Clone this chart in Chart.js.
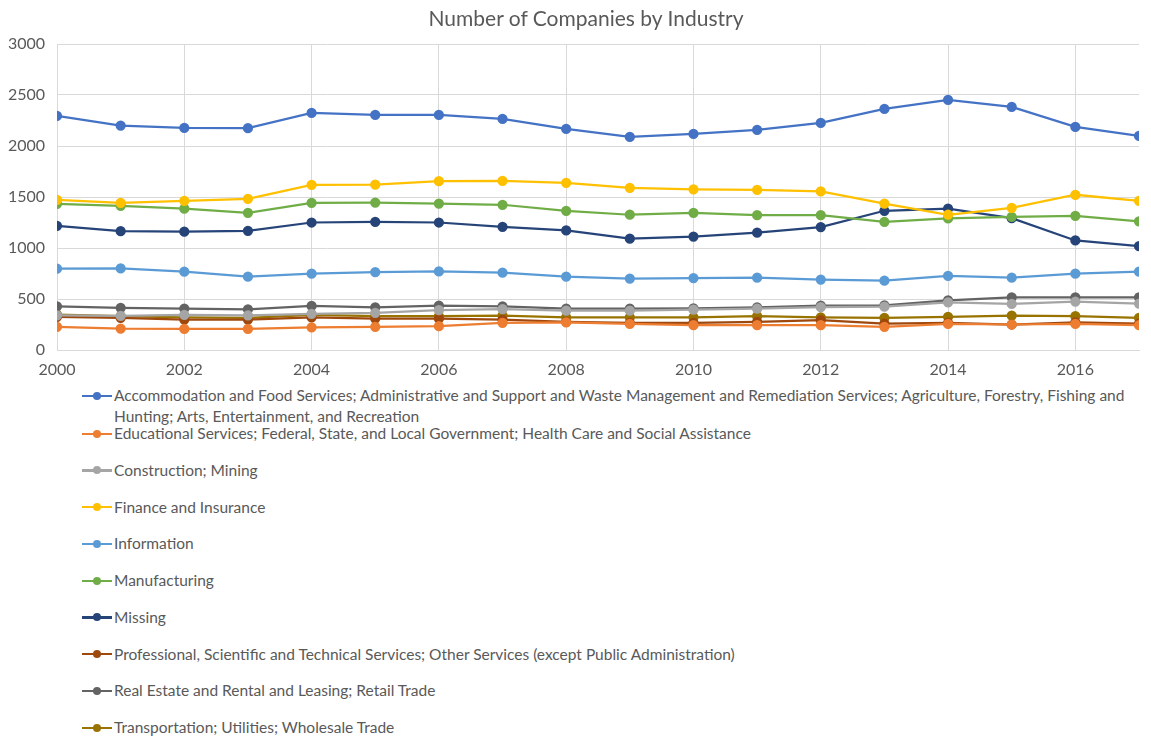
<!DOCTYPE html>
<html>
<head>
<meta charset="utf-8">
<title>Number of Companies by Industry</title>
<script src="https://cdn.jsdelivr.net/npm/chart.js@4"></script>
<style>
  body { margin: 0; background: #fff; font-family: Lato, sans-serif; }
  #wrap { position: relative; width: 1151px; height: 738px; }
  #titulo { position: absolute; left: 386px; width: 400px; top: 5px; text-align: center; color: #595959; font-size: 21px; line-height: 25px; }
  #box { position: absolute; left: 0; top: 0; width: 1151px; height: 385px; }
  #legend { position: absolute; left: 82px; top: 385px; width: 1069px; color: #595959; font-size: 15.5px; line-height: 21px; }
  .item { display: flex; align-items: flex-start; height: 36.75px; }
  .item:first-child { height: 38px; }
  .mark { position: relative; flex: none; width: 30px; height: 21px; margin-right: 2px; }
  .mark .ln { position: absolute; left: 0; right: 0; top: 9.5px; height: 2.25px; }
  .mark .dot { position: absolute; left: 11px; top: 6.5px; width: 8px; height: 8px; border-radius: 50%; }
</style>
</head>
<body>
<div id="wrap">
  <div id="box"><canvas id="chart"></canvas></div>
  <div id="titulo">Number of Companies by Industry</div>
  <div id="legend"></div>
</div>
<script>
// anos e séries
const anos = [2000, 2001, 2002, 2003, 2004, 2005, 2006, 2007, 2008, 2009, 2010, 2011, 2012, 2013, 2014, 2015, 2016, 2017];

const nomes = [
  "Accommodation and Food Services; Administrative and Support and Waste Management and Remediation Services; Agriculture, Forestry, Fishing and Hunting; Arts, Entertainment, and Recreation",
  "Educational Services; Federal, State, and Local Government; Health Care and Social Assistance",
  "Construction; Mining",
  "Finance and Insurance",
  "Information",
  "Manufacturing",
  "Missing",
  "Professional, Scientific and Technical Services; Other Services (except Public Administration)",
  "Real Estate and Rental and Leasing; Retail Trade",
  "Transportation; Utilities; Wholesale Trade"
];

const cores = ["#4472C4", "#ED7D31", "#A5A5A5", "#FFC000", "#5B9BD5", "#70AD47", "#264478", "#9E480E", "#636363", "#997300"];

const acomodacao = [2295, 2200, 2177, 2175, 2324, 2304, 2304, 2265, 2167, 2089, 2118, 2157, 2226, 2363, 2451, 2383, 2187, 2099];
const educacao = [227, 210, 207, 207, 223, 227, 233, 266, 272, 256, 243, 243, 243, 227, 256, 250, 256, 243];
const construcao = [340, 335, 345, 340, 355, 365, 390, 400, 385, 385, 395, 405, 420, 425, 468, 452, 475, 455];
const financas = [1473, 1443, 1463, 1482, 1619, 1622, 1655, 1659, 1639, 1590, 1575, 1570, 1555, 1435, 1326, 1394, 1522, 1463];
const informacao = [797, 800, 768, 719, 748, 763, 770, 758, 719, 700, 705, 709, 690, 680, 726, 709, 748, 768];
const manufatura = [1433, 1414, 1385, 1345, 1443, 1446, 1436, 1424, 1365, 1326, 1345, 1322, 1322, 1257, 1290, 1306, 1316, 1262];
const faltando = [1218, 1165, 1160, 1169, 1250, 1255, 1250, 1208, 1172, 1091, 1112, 1150, 1205, 1365, 1385, 1292, 1074, 1018];
const profissionais = [325, 315, 298, 298, 321, 308, 308, 298, 276, 266, 266, 276, 292, 259, 266, 250, 272, 259];
const imobiliario = [428, 413, 406, 399, 432, 419, 435, 428, 406, 406, 409, 419, 435, 438, 487, 517, 517, 517];
const transporte = [347, 331, 321, 315, 344, 331, 331, 338, 321, 321, 321, 331, 321, 315, 325, 338, 331, 315];

const series = [acomodacao, educacao, construcao, financas, informacao, manufatura, faltando, profissionais, imobiliario, transporte];

const datasets = series.map((vals, i) => ({
  label: nomes[i],
  data: vals.map((v, j) => ({ x: anos[j], y: v })),
  borderColor: cores[i],
  backgroundColor: cores[i],
  borderWidth: 2.25,
  pointRadius: 4,
  pointHoverRadius: 5,
  tension: 0
}));

const cinza = '#595959';
const fonte = { family: 'Lato, sans-serif', size: 16 };

const ctx = document.getElementById('chart').getContext('2d');
const myChart = new Chart(ctx, {
  type: 'line',
  data: { datasets: datasets },
  options: {
    responsive: true,
    maintainAspectRatio: false,
    animation: false,
    layout: { padding: { left: 0, right: 12, top: 44, bottom: 0 } },
    plugins: {
      legend: { display: false },
      tooltip: { enabled: false }
    },
    scales: {
      x: {
        type: 'linear',
        min: 2000,
        max: 2017,
        afterFit: (s) => { s.height = 35; },
        ticks: { stepSize: 2, includeBounds: false, color: cinza, font: fonte, padding: 10, maxRotation: 0,
                 callback: (v) => String(v) },
        grid: { color: '#D9D9D9', lineWidth: 1, drawTicks: false },
        border: { color: '#D9D9D9' }
      },
      y: {
        min: 0,
        max: 3000,
        afterFit: (s) => { s.width = 57; },
        ticks: { stepSize: 500, color: cinza, font: fonte, padding: 12, callback: (v) => String(v) },
        grid: { color: '#D9D9D9', lineWidth: 1, drawTicks: false },
        border: { display: false }
      }
    }
  }
});

// legenda em HTML, uma entrada por linha
const legenda = document.getElementById('legend');
myChart.data.datasets.forEach((ds) => {
  const item = document.createElement('div');
  item.className = 'item';
  const mark = document.createElement('div');
  mark.className = 'mark';
  const ln = document.createElement('div');
  ln.className = 'ln';
  ln.style.background = ds.borderColor;
  const dot = document.createElement('div');
  dot.className = 'dot';
  dot.style.background = ds.backgroundColor;
  mark.appendChild(ln);
  mark.appendChild(dot);
  const txt = document.createElement('span');
  txt.textContent = ds.label;
  item.appendChild(mark);
  item.appendChild(txt);
  legenda.appendChild(item);
});
</script>
</body>
</html>
